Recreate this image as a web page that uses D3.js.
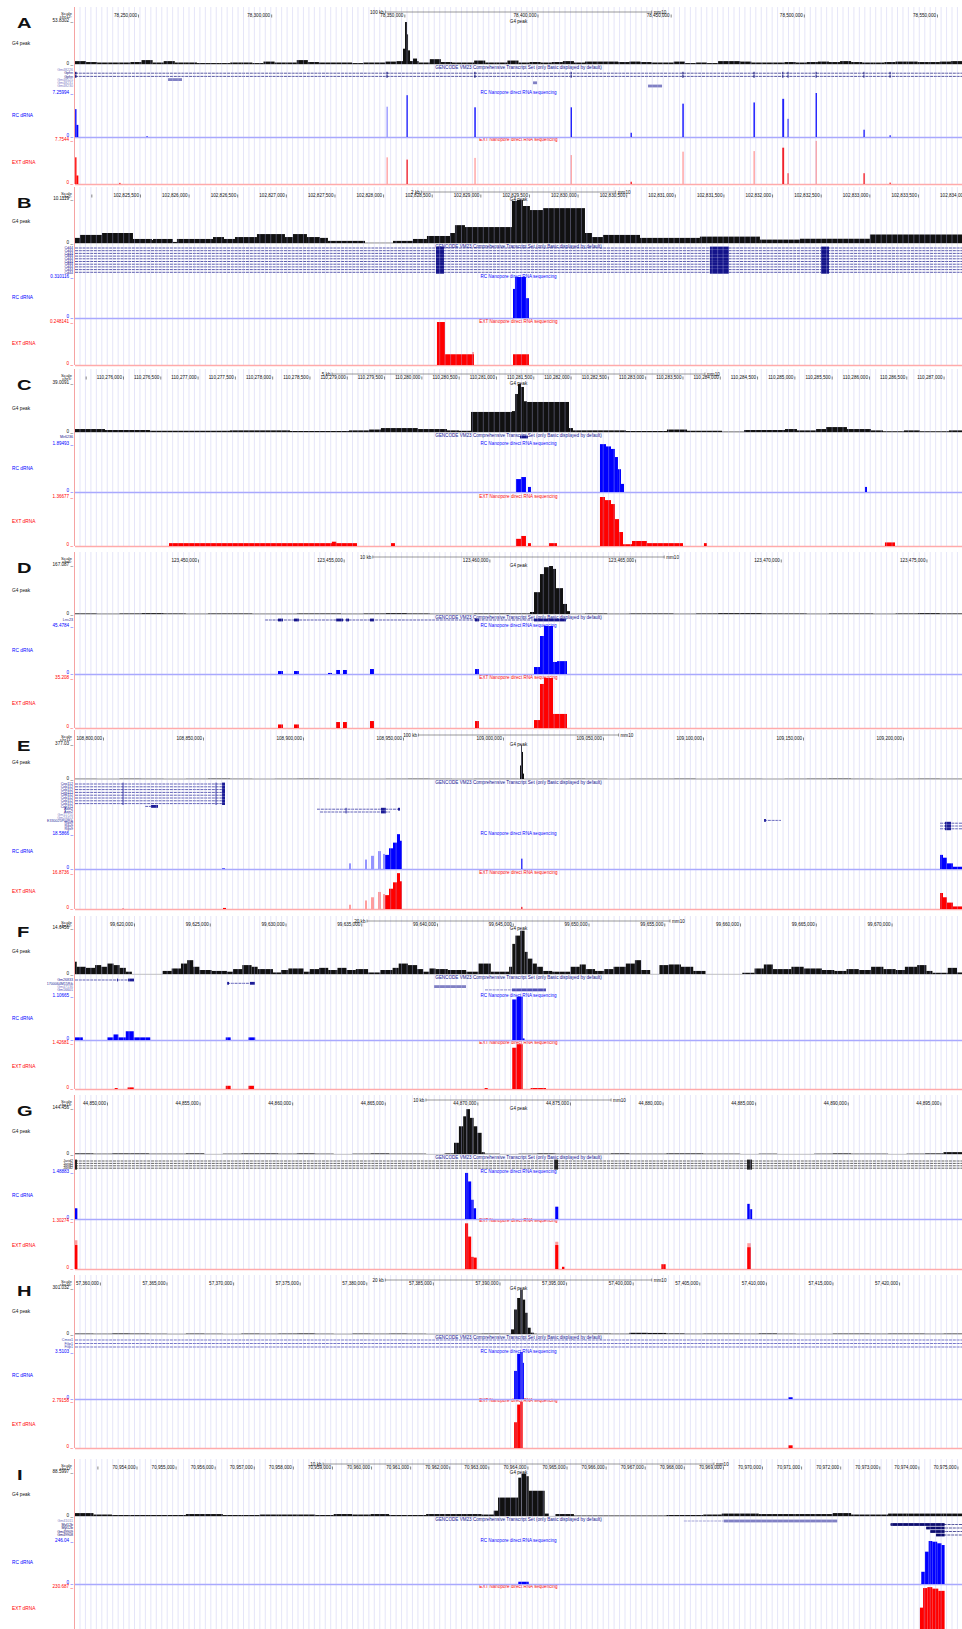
<!DOCTYPE html>
<html>
<head>
<meta charset="utf-8">
<script src="https://cdn.jsdelivr.net/npm/d3@7"></script>
<style>
  html, body { margin: 0; padding: 0; background: #fff; }
  svg { display: block; font-family: "Liberation Sans", Arial, Helvetica, sans-serif; }
</style>
</head>
<body>
<div id="chart"></div>
<script>
// ---------- data (genomic coordinates, mm10) ----------
// bars are [start, end, value, light?]

// A  chr12 Gphn
const A_ticks = [78250000, 78300000, 78350000, 78400000, 78450000, 78500000, 78550000];
const A_max = [53.8302, 7.25994, 7.7544];
const A_g4Bg = [3.7,2.5,1.9,1.9,1.9,2.5,5.0,1.9,3.7,1.9, 1.9,1.2,1.2,1.2,1.9,1.9,1.2,3.1,1.9,1.9,
  5.0,2.5,1.9,1.9,1.9,1.2,1.9,1.9,3.1,3.7, 3.7,1.9,6.2,2.5,1.9,1.9,4.4,1.9,1.9,4.4,
  1.9,2.5,1.9,2.5,3.7,1.9,3.1,3.1,3.1,2.5, 3.1,2.5,1.9,1.9,3.1,1.2,1.9,1.2,3.7,3.7,
  3.1,1.9,1.9,1.9,2.5,1.9,2.5,3.1,2.5,3.7, 2.5,1.9,1.9,2.5,3.1,3.1,2.5,2.5,3.1,3.7];
const A_g4 = [[78349500,78350260,19.6],[78350260,78351010,53.8],[78351010,78351390,38],
  [78351390,78352140,17.5],[78352140,78353260,3],[78353260,78354770,7]];
const A_rc = [[78226400,78226900,4.6],[78226900,78227600,2.0],[78253200,78253600,0.15],
  [78343300,78343800,5.0,1],[78350800,78351300,6.9],[78376300,78376800,4.9],[78412400,78412900,4.9],
  [78434900,78435400,0.7],[78454400,78454900,5.5],[78481100,78481600,5.7],[78491900,78492600,6.3],
  [78493900,78494300,3.0],[78504400,78504900,7.26],[78522400,78522900,1.2],[78532200,78532600,0.3]];
const A_ext = [[78226400,78226900,4.7],[78226900,78227600,1.5],[78243000,78243400,0.2],
  [78343300,78343800,4.7,1],[78350800,78351300,4.3],[78376300,78376800,4.6,1],[78412400,78412900,5.1,1],
  [78434900,78435400,0.4],[78454400,78454900,5.7,1],[78481100,78481600,5.8,1],[78491900,78492600,6.4],
  [78493900,78494300,1.9],[78504400,78504900,7.6,1],[78522400,78522900,1.9],[78532200,78532600,0.25]];
const A_gphnExons = [[78226400,78226900],[78343300,78343700],[78376300,78376700],[78412400,78412800],
  [78454400,78454800],[78481100,78481500],[78491900,78492300],[78493900,78494300],[78504400,78504800],
  [78522400,78522700],[78532200,78532500]];
const A_genes = [["Gm48226", null, []], ["Gphn", [78226344,78559387], A_gphnExons],
  ["Gphn", [78226344,78559387], A_gphnExons], ["Gm48525", null, [[78261270,78266520]]],
  ["Gm48231", null, [[78398320,78399830]]], ["Gm48230", null, [[78441500,78446760]]]];

// B  chr2 Cd44
const B_ticks = [102825000,102825500,102826000,102826500,102827000,102827500,102828000,102828500,
  102829000,102829500,102830000,102830500,102831000,102831500,102832000,102832500,102833000,
  102833500,102834000];
const B_max = [10.1119, 0.310116, 0.248141];
const B_g4 = [[102824832,102824883,1.2],[102824883,102825109,1.9],[102825109,102825428,2.35],
  [102825428,102825623,0.95],[102825623,102825634,0.7],[102825634,102825839,0.95],[102825839,102825880,0.25],
  [102825880,102826251,0.95],[102826251,102826364,1.4],[102826364,102826477,0.95],[102826477,102826703,1.4],
  [102826703,102826991,2.1],[102826991,102827073,1.4],[102827073,102827217,2.1],[102827217,102827351,1.4],
  [102827351,102827433,1.2],[102827433,102827814,0.5],[102827814,102828102,0.05],[102828102,102828307,0.5],
  [102828307,102828451,0.95],[102828451,102828688,1.65],[102828688,102828739,2.35],[102828739,102828842,4.2],
  [102828842,102829325,3.75],[102829325,102829377,9.9],[102829377,102829438,10.1],[102829438,102829510,8.7],
  [102829510,102829644,7.75],[102829644,102830076,8.2],[102830076,102830148,2.35],[102830148,102830261,1.4],
  [102830261,102830642,1.9],[102830642,102831258,1.2],[102831258,102831875,1.5],[102831875,102832287,0.8],
  [102832287,102833006,1.0],[102833006,102833953,2.0]];
const B_rc = [[102829336,102829356,0.22],[102829356,102829469,0.31],[102829469,102829500,0.15]];
const B_ext = [[102828554,102828636,0.248],[102828636,102828934,0.062],[102828915,102828934,0.075,1],
  [102829336,102829500,0.062]];
const B_cd44Exons = [[102828544,102828626],[102831361,102831557],[102832503,102832585]];
const B_genes = d3.range(10).map(() => ["Cd44", [102824832,102833953], B_cd44Exons]);

// C  chr5
const C_ticks = [110275500,110276000,110276500,110277000,110277500,110278000,110278500,110279000,
  110279500,110280000,110280500,110281000,110281500,110282000,110282500,110283000,110283500,110284000,
  110284500,110285000,110285500,110286000,110286500,110287000];
const C_max = [39.0091, 1.89493, 1.36677];
const C_g4 = [[110275357,110275759,2.4],[110275759,110276362,1.6],[110276362,110277434,1.0],
  [110277434,110278239,1.3],[110278239,110279029,0.8],[110279029,110279298,1.3],[110279298,110279458,2.0],
  [110279458,110279954,3.2],[110279954,110280343,2.4],[110280343,110280504,1.3],[110280504,110280665,1.0],
  [110280665,110281214,16.3],[110281214,110281255,17],[110281255,110281295,30.9],[110281295,110281335,39],
  [110281335,110281375,36.6],[110281375,110281416,25],[110281416,110281979,24.4],[110281979,110282032,3.2],
  [110282032,110282743,1.3],[110282743,110283292,0.8],[110283292,110283561,2.0],[110283561,110284030,1.0],
  [110284030,110284325,0.3],[110284325,110284874,1.6],[110284874,110285035,2.4],[110285035,110285290,1.3],
  [110285290,110285424,2.4],[110285424,110285705,4.0],[110285705,110286027,2.4],[110286027,110286188,1.3],
  [110286188,110286469,0.6],[110286469,110286683,1.3],[110286683,110287072,0.6],[110287072,110287247,1.3]];
const C_rc = [[110281268,110281335,0.51],[110281335,110281402,0.59],[110281429,110281469,0.2],
  [110282394,110282475,1.89],[110282475,110282542,1.8],[110282542,110282595,1.7],[110282595,110282635,1.38],
  [110282635,110282676,0.9],[110282676,110282716,0.32],[110285946,110285973,0.2]];
const C_ext = [[110276617,110279137,0.08],[110278800,110278860,0.12],[110279593,110279646,0.08],
  [110281268,110281335,0.2],[110281335,110281402,0.28],[110281429,110281469,0.08],[110281711,110281818,0.08],
  [110282394,110282461,1.37],[110282461,110282542,1.28],[110282542,110282595,1.17],[110282595,110282649,0.75],
  [110282649,110282703,0.39],[110282703,110282823,0.05],[110282823,110283024,0.14],[110283024,110283507,0.08],
  [110283788,110283828,0.08],[110286214,110286349,0.1]];
const C_genes = [["Mir6236", null, [[110281322,110281429]]]];

// D  chr6
const D_ticks = [123450000, 123455000, 123460000, 123465000, 123470000, 123475000];
const D_max = [167.087, 45.4784, 35.208];
const D_g4Bg = [2,1,2,3,2,1,2,2,1,1, 2,2,1,2,3,2,1,1,2,2, 2,1,1,2,1,2,2,1,2,3, 3,2,2,1,2,2,1,2,3,2];
const D_g4 = [[123461394,123461532,7],[123461532,123461737,76],[123461737,123461875,139],
  [123461875,123462046,163],[123462046,123462184,167],[123462184,123462287,157],[123462287,123462527,90],
  [123462527,123462664,35],[123462664,123462767,10]];
const D_rc = [[123452746,123452917,2.8],[123453295,123453466,2.8],[123454462,123454599,1],
  [123454736,123454873,3.8],[123454976,123455114,3.8],[123455903,123456040,4.7],[123459507,123459644,4.7],
  [123461532,123461737,6.6],[123461737,123461875,36],[123461875,123462184,45.5],[123462184,123462321,11.4],
  [123462321,123462664,12.2]];
const D_ext = [[123452746,123452917,2.5],[123453295,123453466,2.5],[123454736,123454873,4.2],
  [123454976,123455114,4.2],[123455903,123456040,4.9],[123459507,123459644,4.9],[123461532,123461737,5.6],
  [123461737,123461875,31],[123461875,123462184,35.2],[123462184,123462664,9.9]];
const D_genes = [["Lrrc23", [123452299,123462630], [[123452746,123452917],[123453295,123453466],
  [123454736,123454976],[123455079,123455182],[123455903,123456040],[123459507,123459644],[123461532,123462630]]]];

// E  chr11 Cep112 / Axin2 / Rgs9
const E_ticks = [108800000,108850000,108900000,108950000,109000000,109050000,109100000,109150000,109200000];
const E_max = [377.03, 18.5866, 16.8736];
const E_g4Bg = [3,2,4,3,2,3,5,3,2,3, 4,3,2,2,3,4,3,2,3,3, 2,3,4,3,2,3,3,4,2,3, 3,2,3,4,5,3,2,3,4,3];
const E_g4 = [[109008500,109009000,150],[109009000,109009500,377],[109009500,109010000,300],[109010000,109010500,60]];
const E_rc = [[108859500,108861000,0.3],[108923000,108924000,3.0,1],[108931000,108932000,5.0,1],
  [108934000,108935500,7.0,1],[108937500,108939000,9.5,1],[108940000,108941000,8.0,1],[108941000,108943000,7.5],
  [108943000,108945000,11],[108945000,108947000,14],[108947000,108948500,18.5],[108948500,108949500,15],
  [109009000,109009700,5.5],[109218500,109220000,7.5],[109220000,109222000,6],[109222000,109225000,3],
  [109225000,109229500,1.2]];
const E_ext = [[108809800,108810300,0.3],[108860000,108861500,0.5],[108923000,108924000,2.0,1],
  [108931000,108932000,4.0,1],[108934000,108935500,5.5,1],[108937500,108939000,8.0,1],[108940000,108941000,7.0,1],
  [108941000,108943000,6.5],[108943000,108945000,9.5],[108945000,108947000,12.5],[108947000,108948500,16.8],
  [108948500,108949500,13],[109009000,109009700,1.0],[109218500,109220000,7.5],[109220000,109222000,5.5],
  [109222000,109225000,3],[109225000,109229500,1.2]];
const E_cepExons = [[108809800,108810300],[108856300,108856800],[108859500,108861000]];
const E_genes = [
  ...d3.range(8).map(() => ["Cep112", [108786000,108861000], E_cepExons]),
  ["Cep112", [108821000,108827500], [[108824000,108827500]]],
  ["Axin2", [108907000,108948500], [[108921300,108921800],[108939000,108941500],[108947500,108948500]]],
  ["Axin2", [108908500,108943500], [[108921300,108921800],[108939000,108941500]]],
  ["Gm11710", null, []], ["Gm24453", null, []],
  ["E330025P04Rik", [109130500,109139000], [[109130500,109131500]]],
  ["Rgs9", [109218500,109229500], [[109221000,109224000]]],
  ["Rgs9", [109218500,109229500], [[109221000,109224000]]],
  ["Rgs9", [109218500,109229500], [[109221000,109224000]]]];

// F
const F_ticks = [99620000,99625000,99630000,99635000,99640000,99645000,99650000,99655000,99660000,99665000,99670000];
const F_max = [14.6456, 1.10665, 1.42681];
const F_g4 = [[99616106,99616220,4.0],[99616220,99616820,2.35],[99616820,99617430,2.0],[99617430,99617840,2.9],
  [99617840,99618240,2.35],[99618240,99618650,3.4],[99618650,99619050,2.9],[99619050,99619460,2.0],
  [99619460,99619860,0.75],[99621890,99622490,1.0],[99622490,99623100,1.8],[99623100,99623510,3.4],
  [99623510,99623910,4.5],[99623910,99624320,2.35],[99624320,99625120,1.3],[99625120,99626140,1.0],
  [99626140,99626540,0.75],[99626540,99627150,1.6],[99627150,99627760,2.9],[99627760,99628160,2.35],
  [99628160,99629170,1.6],[99629170,99629700,0.5],[99629700,99630190,1.3],[99630190,99631200,1.8],
  [99631200,99631600,0.75],[99631600,99632210,1.6],[99632210,99632820,2.0],[99632820,99633430,1.3],
  [99633430,99634030,2.0],[99634030,99634640,1.3],[99634640,99635450,1.6],[99635450,99636260,0.5],
  [99636260,99637070,1.3],[99637070,99637470,2.0],[99637470,99638080,3.4],[99638080,99638690,2.9],
  [99638690,99639090,1.6],[99639090,99639500,0.75],[99639500,99639900,1.8],[99639900,99640710,1.6],
  [99640710,99641930,1.3],[99641930,99642740,0.75],[99642740,99643550,3.4],[99643550,99644760,0.75],
  [99644760,99644970,2.35],[99644970,99645170,9.8],[99645170,99645490,12.5],[99645490,99645780,14.1],
  [99645780,99645980,7.2],[99645980,99646300,5.0],[99646300,99646590,3.4],[99646590,99646990,2.35],
  [99646990,99647600,1.0],[99647600,99648810,0.75],[99648810,99649420,2.35],[99649420,99649820,3.1],
  [99649820,99650430,1.6],[99650430,99651040,1.0],[99651040,99651650,1.6],[99651650,99652460,2.35],
  [99652460,99653060,3.4],[99653060,99653470,4.5],[99653470,99654070,1.3],[99654680,99655290,2.9],
  [99655290,99656100,3.1],[99656100,99656910,2.35],[99656910,99657720,1.0],[99660150,99660960,0.4],
  [99660960,99661570,1.8],[99661570,99662170,3.1],[99662170,99663390,1.6],[99663390,99664200,2.35],
  [99664200,99665410,1.8],[99665410,99666220,1.3],[99666220,99667030,1.0],[99667030,99667840,1.6],
  [99667840,99668650,1.3],[99668650,99669460,2.35],[99669460,99670270,1.6],[99670270,99670880,1.3],
  [99670880,99671690,2.35],[99671690,99672300,2.9],[99672300,99672700,1.0],[99672700,99673710,0.4],
  [99673710,99674320,2.0],[99674320,99674650,0.5]];
const F_rc = [[99616106,99616622,0.066],[99618242,99618647,0.066],[99618647,99618971,0.14],
  [99618971,99619457,0.066],[99619457,99619983,0.22],[99619983,99621076,0.066],[99626056,99626380,0.066],
  [99627554,99627999,0.066],[99644965,99645249,1.02],[99645249,99645654,1.09],[99645654,99645775,0.04]];
const F_ext = [[99618728,99618930,0.03],[99619578,99619983,0.05],[99626056,99626380,0.1],
  [99627554,99627918,0.1],[99643143,99643346,0.03],[99644965,99645249,1.28],[99645249,99645654,1.39],
  [99646180,99647192,0.03]];
const F_genes = [["Gm26833", [99616106,99620000], [[99618878,99618944],[99619604,99620000]]],
  ["1700064M15Rik", [99626138,99627986], [[99626138,99626270],[99627656,99627986]]],
  ["Gm47136", null, [[99639800,99641912]]],
  ["Gm16601", [99643166,99647192], [[99644948,99647192]]]];

// G  chr13 Jarid2
const G_ticks = [44850000,44855000,44860000,44865000,44870000,44875000,44880000,44885000,44890000,44895000];
const G_max = [144.456, 1.48883, 1.30274];
const G_g4Bg = [2,1,2,2,1,1,2,0,1,2, 2,1,2,1,0,1,2,1,1,0, 2,2,1,0,1,2,1,1,1,2, 1,1,2,2,1,1,0,1,0,0,
  1,2,1,1,0,1,2,6];
const G_g4 = [[44868738,44869003,36],[44869003,44869235,89],[44869235,44869401,121],[44869401,44869600,144],
  [44869600,44869798,116],[44869798,44869997,89],[44869997,44870229,68],[44870229,44870395,6]];
const G_rc = [[44848272,44848400,0.34],[44869335,44869500,1.46],[44869500,44869666,1.19],[44869666,44869798,0.61],
  [44869798,44869931,0.34],[44874204,44874370,0.39],[44884574,44884707,0.48],[44884707,44884839,0.31]];
const G_ext = [[44848272,44848400,0.78,1],[44848272,44848400,0.65],[44869335,44869500,1.24],[44869500,44869666,0.88],
  [44869666,44869798,0.33],[44869798,44869964,0.31],[44874204,44874370,0.74,1],[44874204,44874370,0.65],
  [44874569,44874702,0.06],[44879936,44880168,0.13],[44884574,44884773,0.7,1],[44884574,44884773,0.59]];
const G_jarid2Exons = [[44848272,44848380],[44874138,44874354],[44884560,44884830]];
const G_genes = d3.range(4).map(() => ["Jarid2", [44848272,44896170], G_jarid2Exons]);

// H  chr16
const H_ticks = [57360000,57365000,57370000,57375000,57380000,57385000,57390000,57395000,57400000,
  57405000,57410000,57415000,57420000];
const H_max = [301.032, 3.5103, 2.79158];
const H_g4Bg = [3,2,4,3,2,1,3,2,1,3, 2,3,4,2,1,3,2,3,2,1, 1,2,3,2,2,1,1,2,3,2, 8,7,4,2,3,3,2,4,2,1,
  1,3,3,2,3,3,2,3];
const H_g4 = [[57390867,57391097,31],[57391097,57391328,164],[57391328,57391558,241],[57391558,57391742,297],
  [57391742,57391927,230],[57391927,57392111,142],[57392111,57392341,42],[57392341,57392571,9]];
const H_rc = [[57391097,57391328,2.1],[57391328,57391558,3.38],[57391558,57391742,3.51],[57391742,57391834,2.7],
  [57411686,57412009,0.13]];
const H_ext = [[57391097,57391328,1.53],[57391328,57391558,2.58],[57391558,57391742,2.75],[57411686,57412009,0.16]];
const H_genes = [["Cmss1", [57358130,57424725], []], ["Filip1", [57358130,57424725], []],
  ["Filip1", [57358130,57424725], []]];

// I  chr17 Myl12b
const I_ticks = [70953000,70954000,70955000,70956000,70957000,70958000,70959000,70960000,70961000,70962000,
  70963000,70964000,70965000,70966000,70967000,70968000,70969000,70970000,70971000,70972000,70973000,
  70974000,70975000];
const I_max = [88.5997, 246.04, 230.687];
const I_g4Bg = [6,3,2,2,2,2,4,4,2,2, 3,3,3,2,4,3,4,2,2,4, 4,4,3,0,0,0,4,1,1,1, 1,1,2,2,3,5,5,4,4,4,
  4,6,3,3,5,5,5,5];
const I_g4 = [[70963138,70963248,11],[70963248,70963766,38],[70963766,70963845,79],[70963845,70963970,87],
  [70963970,70964033,82],[70964033,70964441,52],[70964441,70964551,5]];
const I_rc = [[70963766,70964033,13],[70974074,70974168,70],[70974168,70974263,185],[70974263,70974357,246],
  [70974357,70974482,242],[70974482,70974592,233],[70974592,70974671,223]];
const I_ext = [[70974040,70974120,120],[70974120,70974230,225],[70974230,70974357,230],[70974357,70974510,222],
  [70974510,70974671,210]];
const I_genes = [["Gm41011", [70968002,70969022], [[70969022,70971925]]],
  ["Myl12b", [70973290,70975116], [[70973290,70974671]]],
  ["Myl12b", [70974200,70975116], [[70974200,70974671]]],
  ["Gm49909", [70974300,70975116], [[70974300,70974671]]],
  ["Gm49908", [70974450,70975116], [[70974450,70974671]]]];

// ---------- panels: window + layout ----------
const panels = [
  { letter: "A", chrom: "chr12:", dom: [78226344, 78559387], ticks: A_ticks, bar: ["100 kb", 100000], max: A_max,
    g4Bg: A_g4Bg, g4: A_g4, rc: A_rc, ext: A_ext, genes: A_genes,
    lay: { ruler: 16, g4: [22, 64], gene: [70, 3.2], rc: [93, 137], ext: [140, 184] } },
  { letter: "B", chrom: "chr2:", dom: [102824832, 102833953], ticks: B_ticks, bar: ["2 kb", 2000], max: B_max,
    g4Bg: null, g4: B_g4, rc: B_rc, ext: B_ext, genes: B_genes,
    lay: { ruler: 196, g4: [200, 243], gene: [248, 2.7], rc: [277, 318], ext: [322, 365] } },
  { letter: "C", chrom: "chr5:", dom: [110275357, 110287247], ticks: C_ticks, bar: ["5 kb", 5000], max: C_max,
    g4Bg: null, g4: C_g4, rc: C_rc, ext: C_ext, genes: C_genes,
    lay: { ruler: 378, g4: [384, 432], gene: [437, 3], rc: [444, 492], ext: [497, 546] } },
  { letter: "D", chrom: "chr6:", dom: [123445779, 123476220], ticks: D_ticks, bar: ["10 kb", 10000], max: D_max,
    g4Bg: D_g4Bg, g4: D_g4, rc: D_rc, ext: D_ext, genes: D_genes,
    lay: { ruler: 561, g4: [566, 614], gene: [620, 3], rc: [626, 674], ext: [678, 728] } },
  { letter: "E", chrom: "chr11:", dom: [108786000, 109229500], ticks: E_ticks, bar: ["100 kb", 100000], max: E_max,
    g4Bg: E_g4Bg, g4: E_g4, rc: E_rc, ext: E_ext, genes: E_genes,
    lay: { ruler: 739, g4: [745, 779], gene: [784, 2.8], rc: [834, 869], ext: [873, 909] } },
  { letter: "F", chrom: "chr12:", dom: [99616106, 99674650], ticks: F_ticks, bar: ["20 kb", 20000], max: F_max,
    g4Bg: null, g4: F_g4, rc: F_rc, ext: F_ext, genes: F_genes,
    lay: { ruler: 925, g4: [929, 974], gene: [980, 3.3], rc: [996, 1040], ext: [1043, 1089] } },
  { letter: "G", chrom: "chr13:", dom: [44848272, 44896170], ticks: G_ticks, bar: ["10 kb", 10000], max: G_max,
    g4Bg: G_g4Bg, g4: G_g4, rc: G_rc, ext: G_ext, genes: G_genes,
    lay: { ruler: 1104, g4: [1109, 1154], gene: [1161, 2.4], rc: [1172, 1219], ext: [1221, 1269] } },
  { letter: "H", chrom: "chr16:", dom: [57358130, 57424725], ticks: H_ticks, bar: ["20 kb", 20000], max: H_max,
    g4Bg: H_g4Bg, g4: H_g4, rc: H_rc, ext: H_ext, genes: H_genes,
    lay: { ruler: 1284, g4: [1289, 1334], gene: [1340, 3.5], rc: [1352, 1399], ext: [1401, 1448] } },
  { letter: "I", chrom: "chr17:", dom: [70952427, 70975116], ticks: I_ticks, bar: ["10 kb", 10000], max: I_max,
    g4Bg: I_g4Bg, g4: I_g4, rc: I_rc, ext: I_ext, genes: I_genes,
    lay: { ruler: 1468, g4: [1473, 1516], gene: [1521, 3.5], rc: [1541, 1584], ext: [1587, 1630] } }
];

// ---------- drawing ----------
const width = 962, height = 1629;
const X0 = 75, X1 = 962;
const BLACK = "#111", BLUE = "#0000ff", BLUE_L = "#9494ff", RED = "#ff0000", RED_L = "#ff9d9d";
const geneColor = { Gphn: "#10107a", Cd44: "#14148a", Jarid2: "#222", Cep112: "#1c1c96", Axin2: "#1c1c96",
  Rgs9: "#1c1c96", Myl12b: "#0c0c6e", Gm26833: "#1c1c96", "1700064M15Rik": "#1c1c96", Gm16601: "#5050b8",
  Lrrc23: "#14148a", Mir6236: "#14148a", "E330025P04Rik": "#2a2aa0", Cmss1: "#3a3ab0", Filip1: "#3a3ab0",
  Gm49909: "#0c0c6e", Gm49908: "#0c0c6e" };

const svg = d3.select("#chart").append("svg")
  .attr("width", width).attr("height", height)
  .attr("viewBox", `0 0 ${width} ${height}`);

function label(g, s, x, yc, size, fill, anchor) {
  if (yc + size * 0.5 > height) return null; // below the photographed area
  return g.append("text")
    .attr("x", x).attr("y", yc + size * 0.36)
    .attr("font-size", size).attr("fill", fill || "#000")
    .attr("text-anchor", anchor || "start")
    .text(s);
}

function bars(g, rows, x, y, color, light) {
  const sorted = rows.slice().sort((a, b) => (b[3] || 0) - (a[3] || 0));
  g.append("g").selectAll("rect").data(sorted).join("rect")
    .attr("x", d => x(d[0]))
    .attr("width", d => Math.max(0.9, x(d[1]) - x(d[0])))
    .attr("y", d => y(d[2]))
    .attr("height", d => Math.max(0, y(0) - y(d[2])))
    .attr("fill", d => d[3] ? light : color);
}

panels.forEach(p => {
  const L = p.lay;
  const g = svg.append("g").attr("class", "panel panel-" + p.letter);
  const x = d3.scaleLinear().domain(p.dom).range([X0, X1]);
  const yG4 = d3.scaleLinear().domain([0, p.max[0]]).range([L.g4[1], L.g4[0]]).clamp(true);
  const yRC = d3.scaleLinear().domain([0, p.max[1]]).range([L.rc[1], L.rc[0]]).clamp(true);
  const yEXT = d3.scaleLinear().domain([0, p.max[2]]).range([L.ext[1], L.ext[0]]).clamp(true);
  const top = L.ruler - 9, bottom = Math.min(L.ext[1], height);

  // track titles (centered)
  const cx = (X0 + X1) / 2;
  label(g, "G4 peak", cx, L.g4[0] - 0.5, 4.6, "#000", "middle");
  label(g, "GENCODE VM23 Comprehensive Transcript Set (only Basic displayed by default)", cx, L.g4[1] + 3, 4.6, "#0a0a8a", "middle");
  label(g, "RC Nanopore direct RNA sequencing", cx, L.rc[0] - 1, 4.6, BLUE, "middle");
  label(g, "EXT Nanopore direct RNA sequencing", cx, L.ext[0] - 1, 4.6, RED, "middle");

  // baselines
  g.append("line").attr("x1", X0).attr("x2", X1).attr("y1", L.g4[1] + 0.3).attr("y2", L.g4[1] + 0.3)
    .attr("stroke", "#b0b0b0").attr("stroke-width", 0.8);
  g.append("line").attr("x1", X0).attr("x2", X1).attr("y1", L.rc[1] + 0.5).attr("y2", L.rc[1] + 0.5)
    .attr("stroke", "#a8a8ff").attr("stroke-width", 1.3);
  g.append("line").attr("x1", X0).attr("x2", X1).attr("y1", L.ext[1] + 0.5).attr("y2", L.ext[1] + 0.5)
    .attr("stroke", "#ffaaaa").attr("stroke-width", 1.4);

  // signals
  if (p.g4Bg) {
    const w = (p.dom[1] - p.dom[0]) / p.g4Bg.length;
    bars(g, p.g4Bg.map((v, i) => [p.dom[0] + i * w, p.dom[0] + (i + 1) * w, v]), x, yG4, BLACK, BLACK);
  }
  bars(g, p.g4, x, yG4, BLACK, "#777");
  bars(g, p.rc, x, yRC, BLUE, BLUE_L);
  bars(g, p.ext, x, yEXT, RED, RED_L);

  // genes
  const gg = g.append("g").attr("class", "genes");
  p.genes.forEach((row, i) => {
    const yy = L.gene[0] + i * L.gene[1];
    const col = geneColor[row[0]] || "#8080c4";
    label(gg, row[0], X0 - 2, yy, 3.6, col, "end");
    if (row[1]) {
      gg.append("line").attr("x1", x(row[1][0])).attr("x2", x(row[1][1]))
        .attr("y1", yy).attr("y2", yy).attr("stroke", col).attr("stroke-width", 0.7)
        .attr("stroke-dasharray", "3,0.8");
    }
    gg.selectAll(null).data(row[2]).join("rect")
      .attr("x", d => x(d[0])).attr("width", d => Math.max(0.9, x(d[1]) - x(d[0])))
      .attr("y", yy - 1.4).attr("height", 2.8).attr("fill", col);
  });

  // grid lines over everything
  g.append("g").selectAll("line").data(d3.range(80, X1, 5.45)).join("line")
    .attr("x1", d => d).attr("x2", d => d).attr("y1", top).attr("y2", bottom)
    .attr("stroke", "#b4b4ea").attr("stroke-opacity", 0.5).attr("stroke-width", 0.7);
  g.append("line").attr("x1", X0 - 0.5).attr("x2", X0 - 0.5).attr("y1", top).attr("y2", bottom)
    .attr("stroke", "#f5a3a3").attr("stroke-width", 1);

  // ruler (base position axis)
  const ticks = p.ticks.filter(t => t >= p.dom[0]);
  const axis = d3.axisTop(x).tickValues(ticks).tickSize(3).tickFormat(d3.format(","));
  const ga = g.append("g").attr("transform", `translate(0,${L.ruler + 1.5})`).call(axis);
  ga.select(".domain").remove();
  ga.attr("font-family", null).attr("font-size", null);
  ga.selectAll(".tick line").attr("stroke", "#333").attr("stroke-width", 0.6);
  ga.selectAll(".tick text")
    .attr("text-anchor", "end").attr("x", -1.5).attr("y", 0).attr("dy", "-0.3")
    .attr("font-size", 4.6).attr("fill", "#111")
    .each(function (t) {
      const len = this.getComputedTextLength();
      if (x(t) - 1.5 - len < X0) d3.select(this).remove();
    });

  // scale bar, centered on the window
  const mid = (p.dom[0] + p.dom[1]) / 2;
  const b0 = x(mid - p.bar[1] / 2), b1 = x(mid + p.bar[1] / 2), by = L.ruler - 4;
  g.append("path").attr("d", `M${b0},${by - 1.5}V${by + 1.5}M${b0},${by}H${b1}M${b1},${by - 1.5}V${by + 1.5}`)
    .attr("stroke", "#555").attr("stroke-width", 0.6).attr("fill", "none");
  label(g, p.bar[0], b0 - 1.5, by, 4.6, "#111", "end");
  label(g, "mm10", b1 + 2, by, 4.6, "#111", "start");

  // left labels
  label(g, "Scale", X0 - 3, L.ruler - 3, 4.4, "#111", "end");
  label(g, p.chrom, X0 - 3, L.ruler, 4.4, "#111", "end");
  label(g, String(p.max[0]) + " _", X0 - 2, L.g4[0] - 1.5, 4.6, "#111", "end");
  label(g, "0 _", X0 - 2, L.g4[1] - 1, 4.6, "#111", "end");
  label(g, String(p.max[1]) + " _", X0 - 2, L.rc[0] - 1, 4.6, BLUE, "end");
  label(g, "0 _", X0 - 2, L.rc[1] - 1.5, 4.6, BLUE, "end");
  label(g, String(p.max[2]) + " _", X0 - 2, L.ext[0] - 1, 4.6, RED, "end");
  label(g, "0 _", X0 - 2, L.ext[1] - 1.5, 4.6, RED, "end");
  label(g, "G4 peak", 12, (L.g4[0] + L.g4[1]) / 2, 4.8, "#111", "start");
  label(g, "RC dRNA", 12, (L.rc[0] + L.rc[1]) / 2, 4.8, BLUE, "start");
  label(g, "EXT dRNA", 12, (L.ext[0] + L.ext[1]) / 2, 4.8, RED, "start");

  // panel letter
  g.append("text")
    .attr("transform", `translate(17,${L.ruler + 12}) scale(1.3,1)`)
    .attr("font-size", 15.5).attr("font-weight", "bold").attr("fill", "#111")
    .text(p.letter);
});
</script>
</body>
</html>
